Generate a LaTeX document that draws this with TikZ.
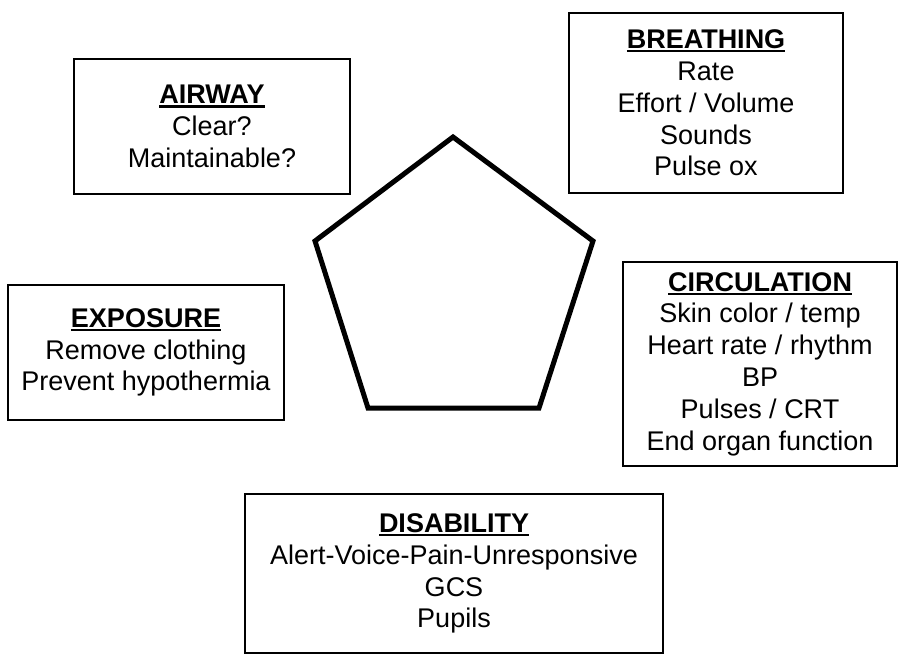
\documentclass[tikz,border=0pt]{standalone}
\usepackage{fontspec}
\setmainfont{Liberation Sans}
% bold heading with a heavy underline
\newcommand\ulhead[1]{\setbox0\hbox{\bfseries #1}\leavevmode\rlap{\rule[-3.8pt]{\wd0}{2.2pt}}\box0}
\begin{document}
\begin{tikzpicture}[x=1pt,y=-1pt,
  card/.style={draw=black, line width=2.5pt, inner sep=0pt, align=center,
    font=\fontsize{27}{31.8}\selectfont},
  penta/.style={draw=black, line width=5pt, line join=miter}]
\useasboundingbox (0,0) rectangle (899,656);

% central pentagon
\coordinate (pt) at (453,137);
\coordinate (pr) at (593,241);
\coordinate (pbr) at (539,408);
\coordinate (pbl) at (368,408);
\coordinate (pl) at (315,241);
\draw[penta] (pt) -- (pr) -- (pbr) -- (pbl) -- (pl) -- cycle;

% assessment boxes
\node[card, minimum width=276pt, minimum height=135pt] (airway) at (212,126.5)
  {\ulhead{AIRWAY}\\Clear?\\Maintainable?};
\node[card, minimum width=274pt, minimum height=180pt] (breathing) at (706,103)
  {\ulhead{BREATHING}\\Rate\\Effort / Volume\\Sounds\\Pulse ox};
\node[card, minimum width=274pt, minimum height=204pt] (circulation) at (760,364)
  {\ulhead{CIRCULATION}\\Skin color / temp\\Heart rate / rhythm\\BP\\Pulses / CRT\\End organ function};
\node[card, minimum width=276pt, minimum height=135pt] (exposure) at (146,352.5)
  {\ulhead{EXPOSURE}\\Remove clothing\\Prevent hypothermia};
\node[card, minimum width=418pt, minimum height=159pt] (disability) at (454,573.5)
  {\ulhead{DISABILITY}\\Alert-Voice-Pain-Unresponsive\\GCS\\Pupils};
\end{tikzpicture}
\end{document}
